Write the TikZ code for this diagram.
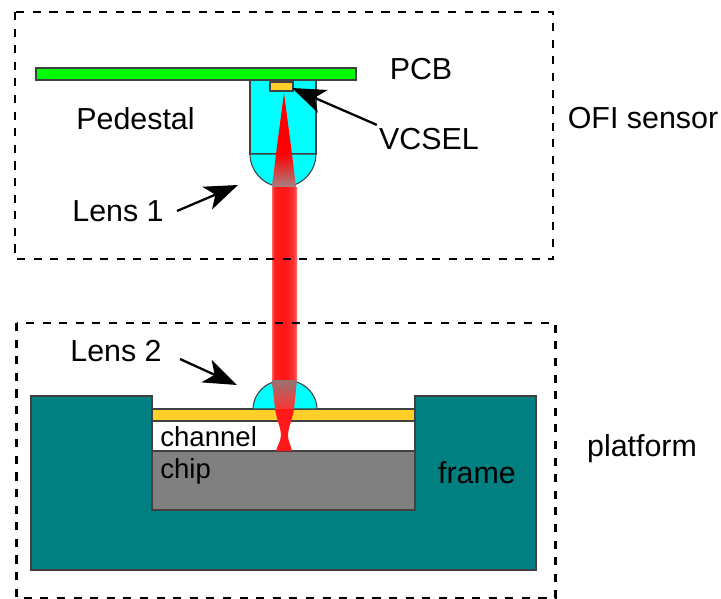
\documentclass[tikz,border=0pt]{standalone}
\usepackage{fontspec}
\setmainfont{Liberation Sans}
\usetikzlibrary{positioning, calc, arrows.meta}
\definecolor{frameteal}{HTML}{008080}
\definecolor{goldlayer}{HTML}{FFD02A}
\definecolor{lenscyan}{HTML}{00FFFF}
\definecolor{pcbgreen}{HTML}{00FF00}
\definecolor{chipgray}{HTML}{808080}
\definecolor{lensgray}{HTML}{A98080}
\pgfdeclarehorizontalshading{beamshade}{100bp}{
    rgb(0bp)=(1,0.4,0.4); rgb(25bp)=(1,0.4,0.4); rgb(29bp)=(1,0.12,0.12);
    rgb(50bp)=(1,0.08,0.08); rgb(68bp)=(1,0.2,0.2); rgb(75bp)=(1,0.45,0.45); rgb(100bp)=(1,0.45,0.45)}

\begin{document}
\begin{tikzpicture}[
    x=0.02cm, y=-0.02cm,
    part/.style={draw=black!75, line width=0.6pt},
    zone/.style={draw=black, line width=1.25pt, dash pattern=on 4.6pt off 4.85pt},
    label/.style={font=\fontsize{17.3}{20}\selectfont, inner sep=0pt, text=black},
    small/.style={font=\fontsize{15.7}{18}\selectfont, inner sep=0pt, text=black},
    pointer/.style={draw=black, line width=1.3pt, -{Stealth[length=19pt, width=14pt, inset=5pt]}}
]
    \useasboundingbox (0,0) rectangle (721,599);

    % Platform
    \draw[part, fill=frameteal] (31,396) -- (152,396) -- (152,510) -- (415,510) -- (415,396) -- (536,396) -- (536,570) -- (31,570) -- cycle;
    \draw[part, fill=chipgray] (152,451) rectangle (415,510);
    \draw[part, fill=goldlayer] (152,409) rectangle (415,421);
    \draw[part, fill=lenscyan] (253,409) .. controls (253,393) and (267,380) .. (285,380) .. controls (303,380) and (317,393) .. (317,409) -- cycle;

    % OFI sensor
    \draw[part, fill=lenscyan] (250,80) rectangle (316,154);
    \draw[part, fill=lenscyan] (250,154) .. controls (250,172) and (265,187) .. (283,187) .. controls (301,187) and (316,172) .. (316,154) -- cycle;
    \draw[part, fill=pcbgreen] (36,68) rectangle (356,80);
    \draw[part, fill=goldlayer] (270,82) rectangle (293,91);

    % Beam
    \fill[red] (284,93) -- (292,154) -- (276,154) -- cycle;
    \shade[top color=red, bottom color=lensgray] (276,154) -- (292,154) -- (296,187) -- (272,187) -- cycle;
    \shade[shading=beamshade] (272,187) rectangle (297,380);
    \shade[top color=lensgray!90!black, middle color=lensgray!85!white, bottom color=red!80!white] (272,380) -- (297,380) -- (294,409) -- (275,409) -- cycle;
    \fill[red!90!white] (275,409) -- (294,409) .. controls (292,421) and (288,428) .. (288,435) .. controls (288,441) and (291,446) .. (292,451) -- (276,451) .. controls (277,446) and (281,441) .. (281,435) .. controls (281,428) and (277,421) .. (275,409) -- cycle;

    % Dashed zones
    \draw[zone] (15,12) rectangle (553,259);
    \draw[zone] (16.5,323) rectangle (555.5,598);

    % Labels
    \node[label] (pcb) at (421,69) {PCB};
    \node[label] (pedestal) at (135.5,119) {Pedestal};
    \node[label] (vcsel) at (429,139) {VCSEL};
    \node[label] (ofi) at (643,118) {OFI sensor};
    \node[label] (lensone) at (118,211) {Lens 1};
    \node[label] (lenstwo) at (116,351) {Lens 2};
    \node[label] (platform) at (642,449) {platform};
    \node[small, anchor=base west] (channel) at (160,446) {channel};
    \node[small, anchor=base west] (chip) at (160,478) {chip};
    \node[label] (frame) at (477,473) {frame};

    % Arrows
    \coordinate (vcseltip) at (292,88);
    \coordinate (lensonetip) at (238,185);
    \coordinate (lenstwotip) at (237,385);
    \draw[pointer] (vcsel.north west) ++(-2,-3) -- (vcseltip);
    \draw[pointer] (lensone.east) ++(13,0) -- (lensonetip);
    \draw[pointer] (lenstwo.east) ++(18,8) -- (lenstwotip);
\end{tikzpicture}
\end{document}
